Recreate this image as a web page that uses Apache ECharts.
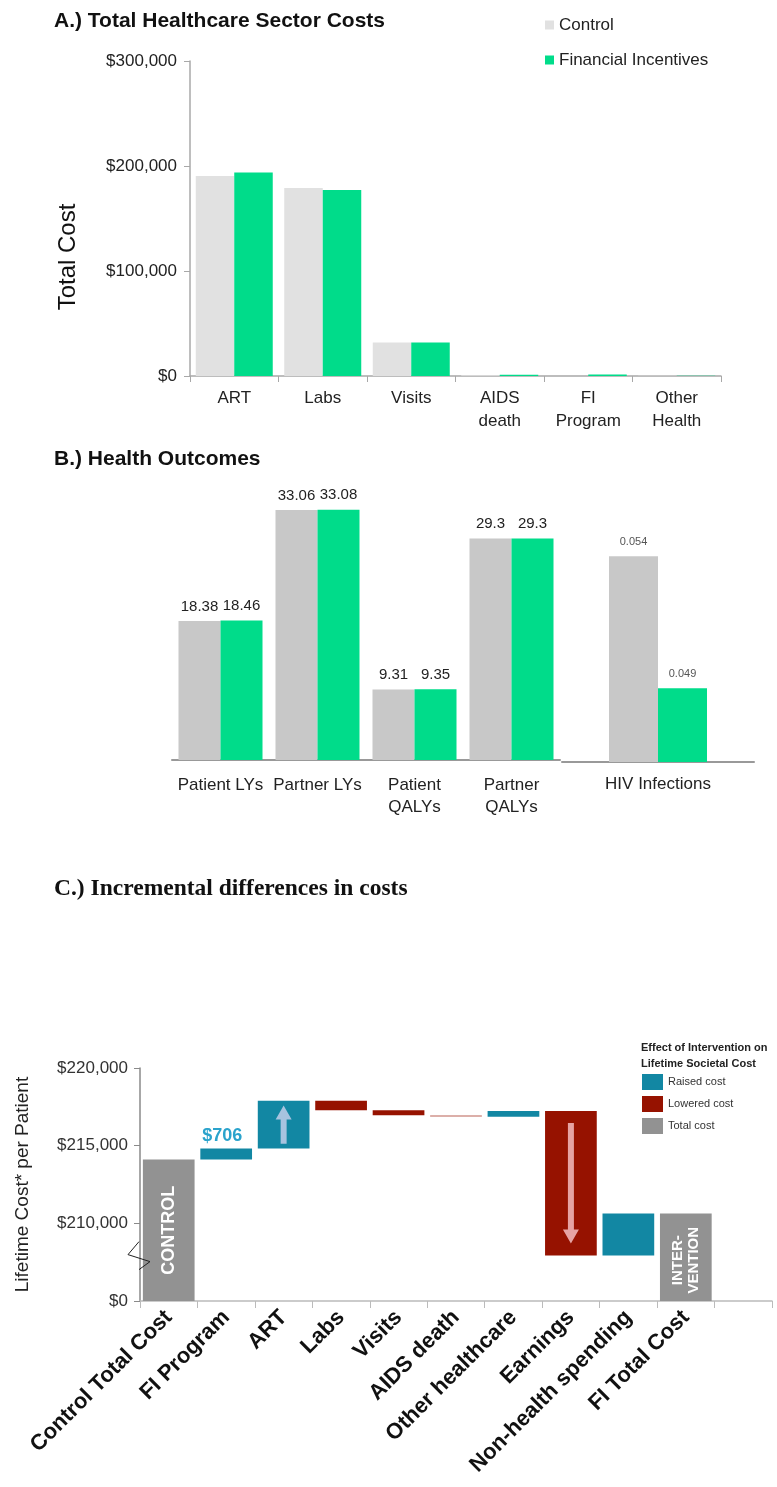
<!DOCTYPE html>
<html>
<head>
<meta charset="utf-8">
<title>Financial incentives: costs and outcomes</title>
<script src="https://cdn.jsdelivr.net/npm/echarts@6/dist/echarts.min.js"></script>
<style>
  html, body { margin: 0; padding: 0; background: #ffffff; }
  #chart { width: 777px; height: 1487px; }
</style>
</head>
<body>
<div id="chart"></div>
<script>
// ---- Panel A: total healthcare sector costs ----
const costCategories = ['ART', 'Labs', 'Visits', 'AIDS\ndeath', 'FI\nProgram', 'Other\nHealth'];
const costControl = [190500, 179000, 31800, 700, 0, 300];
const costIncentive = [193700, 177100, 31900, 1300, 1400, 300];

// ---- Panel B: health outcomes ----
const outcomeCategories = ['Patient LYs', 'Partner LYs', 'Patient\nQALYs', 'Partner\nQALYs'];
const outcomeControl = [18.38, 33.06, 9.31, 29.3];
const outcomeIncentive = [18.46, 33.08, 9.35, 29.3];
const hivCategories = ['HIV Infections'];
const hivControl = [0.054];
const hivIncentive = [0.049];

// ---- Panel C: incremental differences (waterfall) ----
const stepCategories = ['Control Total Cost', 'FI Program', 'ART', 'Labs', 'Visits',
  'AIDS death', 'Other healthcare', 'Earnings', 'Non-health spending', 'FI Total Cost', ''];
const controlTotalCost = 214110;
const stepChanges = [706, 3070, -600, -320, -100, 370, -9310, 2710];
const totalBarLabels = ['CONTROL', 'INTER-\nVENTION'];
const arrowSteps = ['ART', 'Earnings'];
const labelledSteps = ['FI Program'];

const FONT = "'Liberation Sans', Arial, Helvetica, sans-serif";
const SERIF = "'Liberation Serif', 'Times New Roman', serif";
const C_GRAY_A = '#e1e1e1';
const C_GRAY_B = '#c8c8c8';
const C_GREEN = '#00dc8a';
const C_RAISED = '#1287a3';
const C_LOWERED = '#961200';
const C_TOTAL = '#929292';

// Waterfall axis: the lowest band stands for $0 (broken axis)
const W_MIN = 205000, W_MAX = 220000, W_STEP = 5000;
const BREAK_VALUE = 207600;

// Build waterfall items [categoryIndex, low, high]
const raisedItems = [], loweredItems = [], totalItems = [];
totalItems.push([0, 0, controlTotalCost]);
let running = controlTotalCost;
stepChanges.forEach(function (d, i) {
  const lo = Math.min(running, running + d);
  const hi = Math.max(running, running + d);
  (d >= 0 ? raisedItems : loweredItems).push([i + 1, lo, hi]);
  running += d;
});
totalItems.push([stepChanges.length + 1, 0, running]);

function money(v) {
  return '$' + Math.round(v).toString().replace(/\B(?=(\d{3})+(?!\d))/g, ',');
}

function renderStep(params, api) {
  const idx = api.value(0);
  const lo = Math.max(api.value(1), W_MIN);
  const hi = api.value(2);
  const top = api.coord([idx, hi]);
  const bot = api.coord([idx, lo]);
  const w = api.size([1, 0])[0] * 0.9;
  const cx = top[0];
  const h = bot[1] - top[1];
  const color = api.visual('color');
  const name = stepCategories[idx];
  const children = [{
    type: 'rect',
    shape: { x: cx - w / 2, y: top[1], width: w, height: Math.max(h, 1) },
    style: { fill: color, opacity: h < 2.5 ? 0.45 : 1 }
  }];
  if (params.seriesName === 'Total cost') {
    const first = idx === 0;
    children.push({
      type: 'text', x: cx, y: (top[1] + bot[1]) / 2 + (first ? 0 : 3), rotation: Math.PI / 2,
      style: { text: totalBarLabels[first ? 0 : 1], fill: '#ffffff',
        font: 'bold ' + (first ? 18 : 15) + 'px ' + FONT,
        align: 'center', verticalAlign: 'middle', lineHeight: 16 }
    });
  }
  if (arrowSteps.indexOf(name) >= 0) {
    const inset = Math.min(12, h * 0.1);
    const up = params.seriesName === 'Raised cost';
    const hl = 14, hw = 8, sw = 3;
    const y0 = top[1] + inset, y1 = bot[1] - inset;
    let pts;
    if (up) {
      pts = [[cx - sw, y1], [cx - sw, y0 + hl], [cx - hw, y0 + hl], [cx, y0],
        [cx + hw, y0 + hl], [cx + sw, y0 + hl], [cx + sw, y1]];
    } else {
      pts = [[cx - sw, y0], [cx - sw, y1 - hl], [cx - hw, y1 - hl], [cx, y1],
        [cx + hw, y1 - hl], [cx + sw, y1 - hl], [cx + sw, y0]];
    }
    children.push({
      type: 'polygon', shape: { points: pts },
      style: { fill: up ? '#a7c3df' : '#e6a3a3' }
    });
  }
  if (labelledSteps.indexOf(name) >= 0) {
    children.push({
      type: 'text', x: cx - 4, y: top[1] - 3,
      style: { text: money(hi - lo), fill: '#2aa3cc', font: 'bold 18px ' + FONT,
        align: 'center', verticalAlign: 'bottom' }
    });
  }
  return { type: 'group', children: children };
}

const chart = echarts.init(document.getElementById('chart'), null, { renderer: 'canvas' });

const axisGray = '#a8a8a8';

const option = {
  backgroundColor: '#ffffff',
  animation: false,
  textStyle: { fontFamily: FONT },
  title: [
    { text: 'A.) Total Healthcare Sector Costs', left: 49, top: 6,
      textStyle: { fontFamily: FONT, fontSize: 21, fontWeight: 'bold', color: '#111' } },
    { text: 'B.) Health Outcomes', left: 49, top: 444,
      textStyle: { fontFamily: FONT, fontSize: 21, fontWeight: 'bold', color: '#111' } },
    { text: 'C.) Incremental differences in costs', left: 49, top: 872,
      textStyle: { fontFamily: SERIF, fontSize: 23.5, fontWeight: 'bold', color: '#111' } },
    { text: 'Effect of Intervention on\nLifetime Societal Cost', left: 636, top: 1035,
      textStyle: { fontFamily: FONT, fontSize: 11, fontWeight: 'bold', color: '#222', lineHeight: 16 } }
  ],
  legend: [
    { data: ['Control', 'Financial Incentives'], orient: 'vertical', left: 540, top: 11,
      icon: 'rect', itemWidth: 9, itemHeight: 9, itemGap: 17,
      textStyle: { fontFamily: FONT, fontSize: 17, color: '#222', lineHeight: 18 } },
    { data: ['Raised cost', 'Lowered cost', 'Total cost'], orient: 'vertical', left: 637, top: 1069,
      icon: 'rect', itemWidth: 21, itemHeight: 16, itemGap: 6,
      textStyle: { fontFamily: FONT, fontSize: 11, color: '#333' } }
  ],
  grid: [
    { left: 190, top: 61, width: 531, height: 315 },
    { left: 172, top: 457.5, width: 388, height: 302.5 },
    { left: 562, top: 398, width: 192, height: 364 },
    { left: 140, top: 1068, width: 632, height: 233 }
  ],
  xAxis: [
    { gridIndex: 0, type: 'category', data: costCategories,
      axisLine: { lineStyle: { color: axisGray, width: 1.5 } },
      axisTick: { show: true, alignWithLabel: false, length: 6, lineStyle: { color: axisGray } },
      axisLabel: { interval: 0, fontSize: 17, color: '#222', margin: 11, lineHeight: 23 } },
    { gridIndex: 1, type: 'category', data: outcomeCategories,
      axisLine: { lineStyle: { color: '#999', width: 2 } },
      axisTick: { show: false },
      axisLabel: { interval: 0, fontSize: 17, color: '#222', margin: 14, lineHeight: 22 } },
    { gridIndex: 2, type: 'category', data: hivCategories,
      axisLine: { lineStyle: { color: '#999', width: 2 } },
      axisTick: { show: false },
      axisLabel: { interval: 0, fontSize: 17, color: '#222', margin: 14 } },
    { gridIndex: 3, type: 'category', data: stepCategories,
      axisLine: { lineStyle: { color: '#bbbbbb', width: 1.5 } },
      axisTick: { show: true, alignWithLabel: false, length: 7, lineStyle: { color: '#bbbbbb' } },
      axisLabel: { interval: 0, rotate: 45, fontSize: 22, fontWeight: 'bold', color: '#111', margin: 13 } }
  ],
  yAxis: [
    { gridIndex: 0, type: 'value', min: 0, max: 300000, interval: 100000,
      name: 'Total Cost', nameLocation: 'middle', nameGap: 110, nameRotate: 90,
      nameTextStyle: { fontSize: 24, color: '#111', padding: [0, 77, 0, 0] },
      axisLine: { show: true, lineStyle: { color: axisGray, width: 1.5 } },
      axisTick: { show: true, length: 6, lineStyle: { color: axisGray } },
      splitLine: { show: false },
      axisLabel: { fontSize: 17, color: '#222', margin: 13, formatter: money } },
    { gridIndex: 1, type: 'value', min: 0, max: 40, show: false, splitLine: { show: false } },
    { gridIndex: 2, type: 'value', min: 0.0462, max: 0.06, show: false, splitLine: { show: false } },
    { gridIndex: 3, type: 'value', min: W_MIN, max: W_MAX, interval: W_STEP,
      name: 'Lifetime Cost* per Patient', nameLocation: 'middle', nameGap: 108, nameRotate: 90,
      nameTextStyle: { fontSize: 19, color: '#222' },
      axisLine: { show: true, lineStyle: { color: '#8a8a8a', width: 1.5 } },
      axisTick: { show: true, length: 6, lineStyle: { color: '#8a8a8a' } },
      splitLine: { show: false },
      axisLabel: { fontSize: 17, color: '#333', margin: 12,
        formatter: function (v) { return v === W_MIN ? '$0' : money(v); } } }
  ],
  series: [
    { name: 'Control', type: 'bar', xAxisIndex: 0, yAxisIndex: 0, data: costControl,
      itemStyle: { color: C_GRAY_A }, barGap: '0%', barCategoryGap: '13%' },
    { name: 'Financial Incentives', type: 'bar', xAxisIndex: 0, yAxisIndex: 0, data: costIncentive,
      itemStyle: { color: C_GREEN }, barGap: '0%', barCategoryGap: '13%' },

    { name: 'Control', type: 'bar', xAxisIndex: 1, yAxisIndex: 1, data: outcomeControl,
      itemStyle: { color: C_GRAY_B }, barWidth: 42, barGap: '0%',
      label: { show: true, position: 'top', distance: 7, fontSize: 15, color: '#222' } },
    { name: 'Financial Incentives', type: 'bar', xAxisIndex: 1, yAxisIndex: 1, data: outcomeIncentive,
      itemStyle: { color: C_GREEN }, barWidth: 42, barGap: '0%',
      label: { show: true, position: 'top', distance: 7, fontSize: 15, color: '#222' } },

    { name: 'Control', type: 'bar', xAxisIndex: 2, yAxisIndex: 2, data: hivControl,
      itemStyle: { color: C_GRAY_B }, barWidth: 49, barGap: '0%',
      label: { show: true, position: 'top', distance: 9, fontSize: 11, color: '#555' } },
    { name: 'Financial Incentives', type: 'bar', xAxisIndex: 2, yAxisIndex: 2, data: hivIncentive,
      itemStyle: { color: C_GREEN }, barWidth: 49, barGap: '0%',
      label: { show: true, position: 'top', distance: 9, fontSize: 11, color: '#555' } },

    { name: 'Raised cost', type: 'custom', xAxisIndex: 3, yAxisIndex: 3,
      itemStyle: { color: C_RAISED }, renderItem: renderStep,
      encode: { x: 0, y: [1, 2] }, data: raisedItems, z: 3 },
    { name: 'Lowered cost', type: 'custom', xAxisIndex: 3, yAxisIndex: 3,
      itemStyle: { color: C_LOWERED }, renderItem: renderStep,
      encode: { x: 0, y: [1, 2] }, data: loweredItems, z: 3 },
    { name: 'Total cost', type: 'custom', xAxisIndex: 3, yAxisIndex: 3,
      itemStyle: { color: C_TOTAL }, renderItem: renderStep,
      encode: { x: 0, y: [1, 2] }, data: totalItems, z: 3 }
  ]
};

chart.setOption(option);

// Axis-break zigzag on the waterfall value axis
const axisX = option.grid[3].left;
const breakY = chart.convertToPixel({ yAxisIndex: 3 }, BREAK_VALUE);
chart.setOption({
  graphic: [{
    type: 'polyline', z: 100,
    shape: { points: [[axisX - 1, breakY - 19], [axisX - 12, breakY - 6], [axisX + 10, breakY + 1], [axisX - 1, breakY + 9]] },
    style: { stroke: '#222', lineWidth: 1, fill: null }
  }]
});
</script>
</body>
</html>
